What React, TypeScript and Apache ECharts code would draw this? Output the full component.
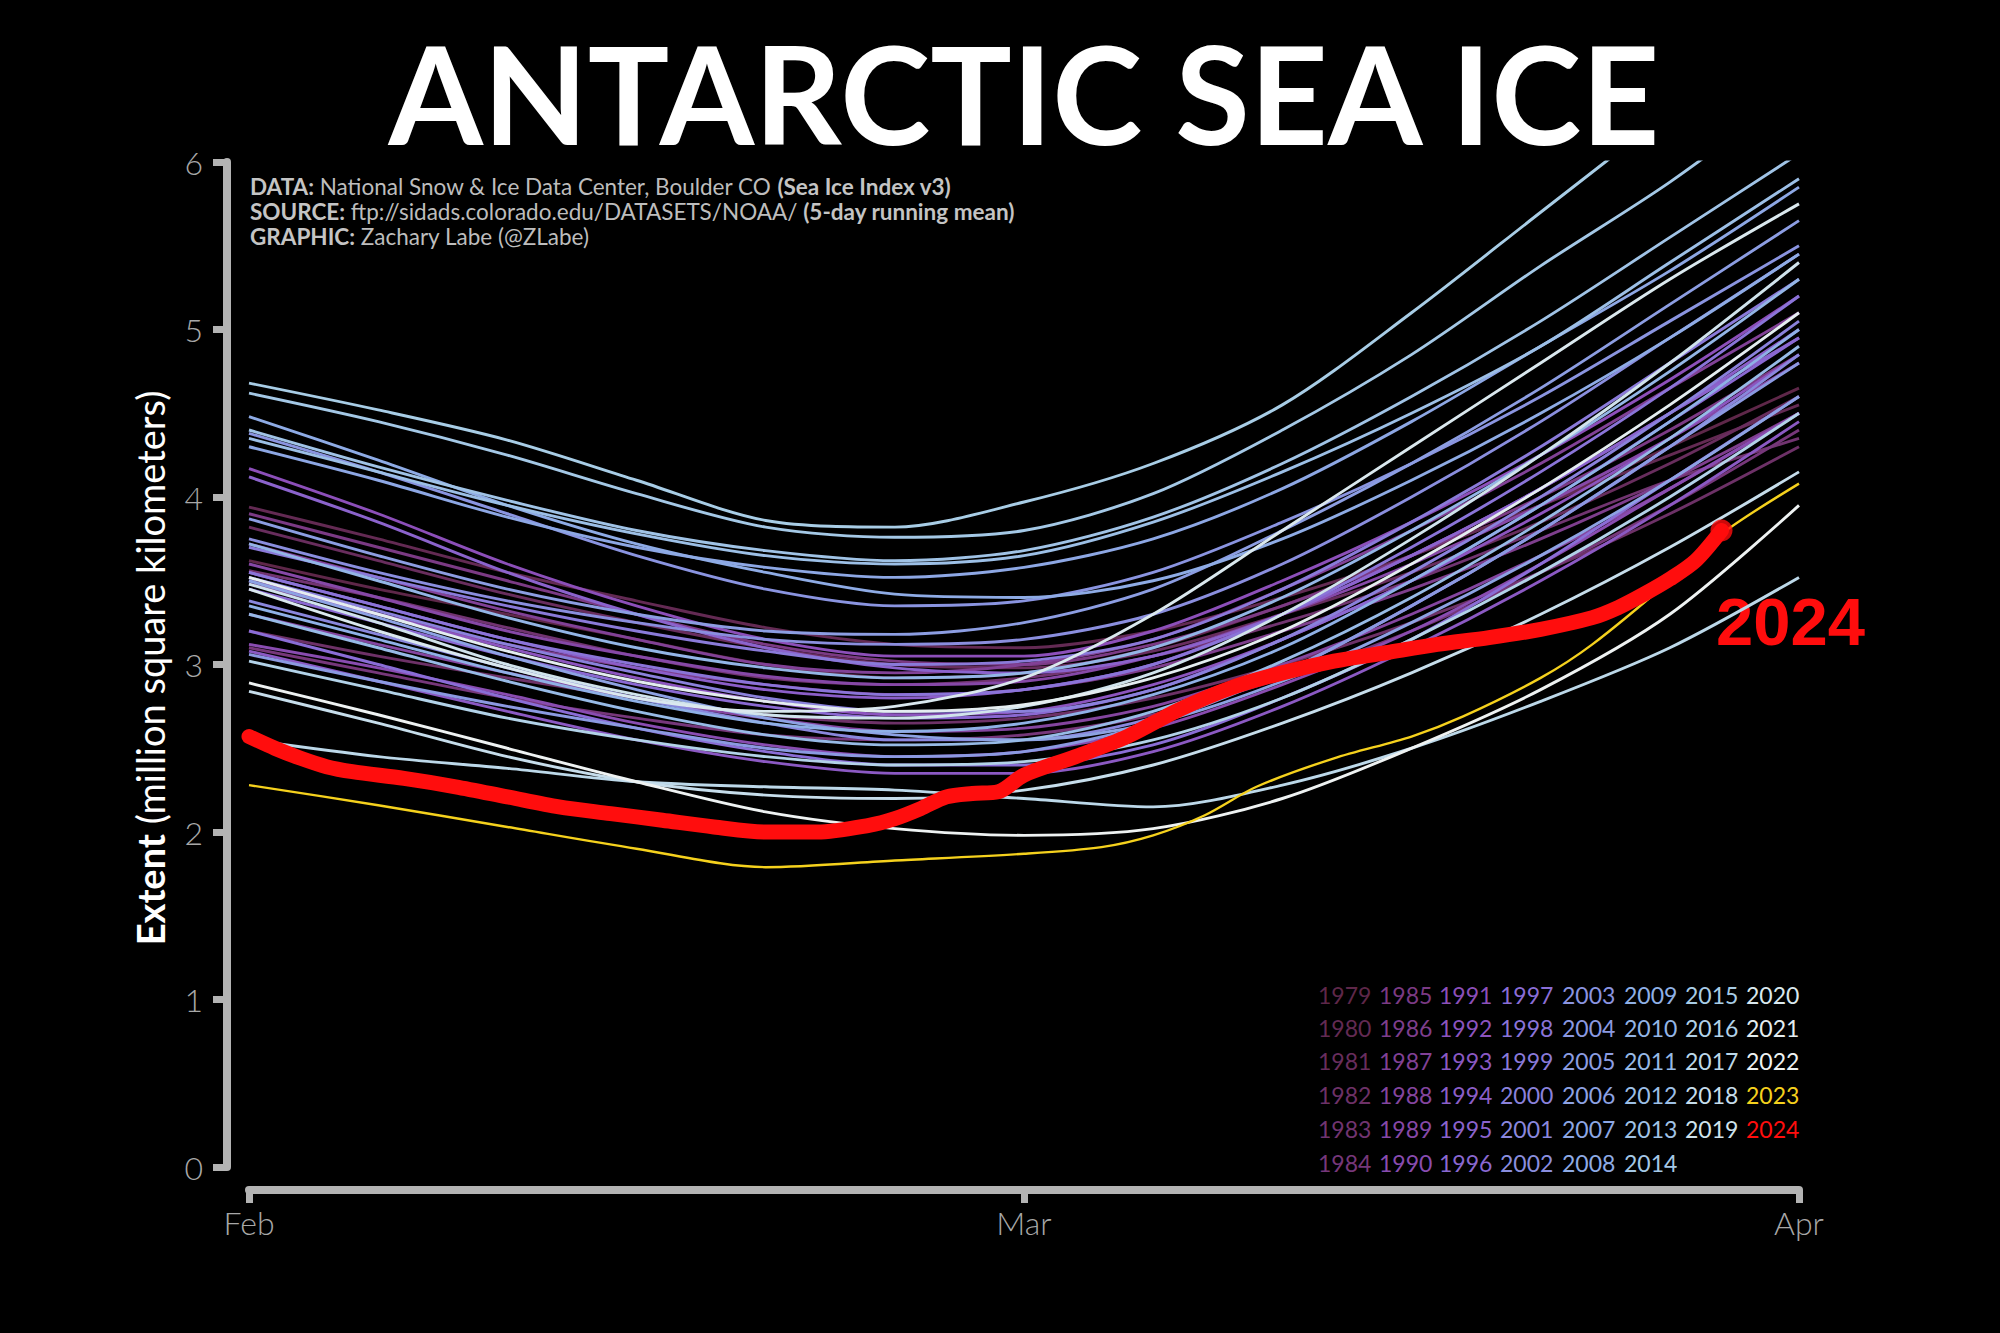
import React, { useEffect, useRef } from "react";
import * as echarts from "echarts";

// ---------- DATA ----------
const days = [0, 5, 10, 15, 20, 25, 30, 35, 40, 45, 50, 55, 60];
const monthTicks = [0, 30, 60];
const monthLabels = ["Feb", "Mar", "Apr"];

const bgYears = [
  1979, 1980, 1981, 1982, 1983, 1984, 1985, 1986, 1987, 1988, 1989, 1990,
  1991, 1992, 1993, 1994, 1995, 1996, 1997, 1998, 1999, 2000, 2001, 2002,
  2003, 2004, 2005, 2006, 2007, 2008, 2009, 2010, 2011, 2012, 2013, 2014,
  2015, 2016, 2017, 2018, 2019, 2020, 2021, 2022,
];

// million km², one row per year in bgYears, sampled at `days`
const bgExtents: number[][] = [
  [3.62, 3.45, 3.3, 3.15, 3.0, 2.92, 2.95, 3.1, 3.35, 3.65, 3.95, 4.3, 4.65], // 1979
  [3.94, 3.75, 3.55, 3.38, 3.22, 3.12, 3.1, 3.2, 3.4, 3.65, 3.95, 4.25, 4.55], // 1980
  [3.82, 3.62, 3.42, 3.25, 3.1, 3.0, 2.98, 3.08, 3.3, 3.55, 3.85, 4.2, 4.6], // 1981
  [3.2, 3.05, 2.92, 2.8, 2.7, 2.65, 2.68, 2.8, 3.0, 3.25, 3.55, 3.9, 4.3], // 1982
  [3.56, 3.4, 3.22, 3.05, 2.92, 2.88, 2.92, 3.05, 3.25, 3.5, 3.8, 4.1, 4.35], // 1983
  [3.1, 2.95, 2.8, 2.68, 2.58, 2.55, 2.58, 2.7, 2.92, 3.2, 3.55, 3.95, 4.4], // 1984
  [3.9, 3.7, 3.5, 3.3, 3.12, 3.02, 3.0, 3.12, 3.35, 3.65, 4.0, 4.4, 4.85], // 1985
  [3.48, 3.3, 3.12, 2.98, 2.88, 2.82, 2.85, 2.98, 3.2, 3.45, 3.75, 4.1, 4.5], // 1986
  [3.72, 3.52, 3.32, 3.15, 3.0, 2.95, 3.0, 3.15, 3.45, 3.8, 4.2, 4.65, 5.1], // 1987
  [3.3, 3.12, 2.95, 2.8, 2.68, 2.6, 2.62, 2.75, 3.0, 3.3, 3.65, 4.05, 4.5], // 1988
  [3.6, 3.4, 3.2, 3.05, 2.93, 2.88, 2.9, 3.05, 3.3, 3.6, 3.95, 4.35, 4.8], // 1989
  [3.12, 2.98, 2.82, 2.65, 2.52, 2.45, 2.48, 2.62, 2.88, 3.2, 3.6, 4.05, 4.5], // 1990
  [4.17, 3.9, 3.6, 3.35, 3.15, 3.05, 3.05, 3.2, 3.5, 3.85, 4.25, 4.7, 5.2], // 1991
  [3.5, 3.3, 3.1, 2.92, 2.78, 2.7, 2.72, 2.88, 3.15, 3.5, 3.9, 4.35, 4.85], // 1992
  [3.08, 2.9, 2.72, 2.55, 2.42, 2.35, 2.35, 2.48, 2.75, 3.1, 3.5, 3.95, 4.45], // 1993
  [3.55, 3.35, 3.15, 2.98, 2.85, 2.8, 2.85, 3.0, 3.3, 3.65, 4.05, 4.5, 5.0], // 1994
  [4.12, 3.85, 3.55, 3.3, 3.1, 2.98, 2.95, 3.05, 3.3, 3.65, 4.05, 4.5, 4.95], // 1995
  [3.45, 3.25, 3.05, 2.88, 2.75, 2.68, 2.7, 2.85, 3.15, 3.5, 3.95, 4.45, 4.95], // 1996
  [3.2, 3.0, 2.8, 2.62, 2.48, 2.4, 2.4, 2.52, 2.8, 3.15, 3.6, 4.1, 4.6], // 1997
  [3.55, 3.35, 3.15, 3.0, 2.88, 2.82, 2.85, 3.0, 3.3, 3.7, 4.15, 4.65, 5.2], // 1998
  [3.7, 3.52, 3.35, 3.2, 3.08, 3.0, 3.02, 3.15, 3.45, 3.85, 4.3, 4.8, 5.3], // 1999
  [3.52, 3.32, 3.12, 2.95, 2.8, 2.72, 2.72, 2.85, 3.15, 3.55, 4.0, 4.5, 5.05], // 2000
  [3.38, 3.18, 2.98, 2.8, 2.65, 2.55, 2.55, 2.68, 2.95, 3.35, 3.8, 4.3, 4.85], // 2001
  [3.75, 3.55, 3.38, 3.25, 3.15, 3.12, 3.15, 3.3, 3.6, 4.0, 4.45, 4.95, 5.45], // 2002
  [4.38, 4.15, 3.9, 3.65, 3.45, 3.35, 3.38, 3.55, 3.85, 4.2, 4.6, 5.05, 5.5], // 2003
  [3.06, 2.9, 2.75, 2.62, 2.5, 2.45, 2.48, 2.65, 2.95, 3.35, 3.8, 4.3, 4.8], // 2004
  [3.87, 3.65, 3.45, 3.3, 3.2, 3.18, 3.25, 3.45, 3.8, 4.2, 4.65, 5.15, 5.65], // 2005
  [3.5, 3.28, 3.05, 2.85, 2.68, 2.58, 2.55, 2.65, 2.9, 3.25, 3.65, 4.1, 4.6], // 2006
  [4.3, 4.1, 3.88, 3.7, 3.58, 3.52, 3.58, 3.75, 4.05, 4.45, 4.9, 5.35, 5.85], // 2007
  [4.48, 4.22, 3.95, 3.72, 3.55, 3.42, 3.4, 3.5, 3.75, 4.1, 4.5, 4.95, 5.45], // 2008
  [3.35, 3.15, 2.95, 2.78, 2.65, 2.6, 2.65, 2.82, 3.1, 3.5, 3.95, 4.45, 5.0], // 2009
  [3.72, 3.5, 3.28, 3.1, 2.98, 2.92, 2.95, 3.1, 3.4, 3.8, 4.25, 4.75, 5.3], // 2010
  [3.3, 3.1, 2.9, 2.72, 2.58, 2.52, 2.55, 2.72, 3.02, 3.4, 3.85, 4.35, 4.9], // 2011
  [4.35, 4.15, 3.95, 3.78, 3.65, 3.6, 3.65, 3.85, 4.15, 4.5, 4.9, 5.4, 5.9], // 2012
  [4.4, 4.18, 3.98, 3.8, 3.68, 3.62, 3.68, 3.88, 4.2, 4.6, 5.05, 5.55, 6.05], // 2013
  [4.62, 4.45, 4.25, 4.02, 3.82, 3.76, 3.8, 4.02, 4.4, 4.85, 5.38, 5.88, 6.45], // 2014
  [4.68, 4.52, 4.34, 4.1, 3.86, 3.82, 3.97, 4.2, 4.55, 5.1, 5.7, 6.3, 6.9], // 2015
  [3.02, 2.85, 2.68, 2.55, 2.45, 2.4, 2.42, 2.55, 2.8, 3.15, 3.55, 4.0, 4.5], // 2016
  [2.55, 2.45, 2.38, 2.3, 2.27, 2.25, 2.2, 2.15, 2.28, 2.5, 2.78, 3.1, 3.52], // 2017
  [2.84, 2.65, 2.45, 2.3, 2.22, 2.2, 2.25, 2.4, 2.65, 2.95, 3.3, 3.7, 4.15], // 2018
  [3.48, 3.25, 3.0, 2.82, 2.7, 2.68, 2.75, 2.95, 3.3, 3.75, 4.25, 4.8, 5.4], // 2019
  [3.45, 3.2, 2.98, 2.8, 2.72, 2.75, 2.92, 3.3, 3.8, 4.3, 4.8, 5.3, 5.75], // 2020
  [3.52, 3.3, 3.08, 2.9, 2.78, 2.72, 2.76, 2.92, 3.2, 3.6, 4.05, 4.55, 5.1], // 2021
  [2.89, 2.7, 2.5, 2.3, 2.12, 2.02, 1.98, 2.02, 2.2, 2.5, 2.85, 3.3, 3.95], // 2022
];

const days2023 = [0, 5, 10, 15, 20, 25, 30, 33, 35, 37, 39, 42, 45, 47, 50, 52, 55, 57, 60];
const ext2023 = [2.28, 2.16, 2.03, 1.9, 1.79, 1.83, 1.87, 1.91, 1.98, 2.1, 2.27, 2.44, 2.57, 2.69, 2.92, 3.12, 3.5, 3.78, 4.08];

const days2024 = [0, 1, 2, 3, 4, 6, 8, 10, 12, 14, 16, 18, 20, 22, 24, 25, 26, 27, 28, 29, 30, 32, 34, 36, 38, 40, 42, 44, 46, 48, 50, 52, 53, 54, 55, 56, 57];
const ext2024 = [2.57, 2.5, 2.44, 2.39, 2.36, 2.32, 2.27, 2.21, 2.15, 2.11, 2.07, 2.03, 2.0, 2.0, 2.04, 2.08, 2.14, 2.21, 2.23, 2.24, 2.34, 2.45, 2.57, 2.73, 2.86, 2.95, 3.02, 3.07, 3.12, 3.16, 3.21, 3.28, 3.34, 3.42, 3.51, 3.62, 3.8];

// ---------- STYLE HELPERS ----------
const colorStops: [number, string][] = [
  [1979, "#5e2749"],
  [1985, "#7b3a84"],
  [1991, "#8c4fb9"],
  [1997, "#8a6dd6"],
  [2003, "#8a94e0"],
  [2009, "#8fb0e6"],
  [2015, "#a8cde6"],
  [2020, "#dae8ee"],
  [2022, "#eef2f2"],
];
const COLOR_2023 = "#f5d11d";
const COLOR_2024 = "#ff0d0d";

function hexToRgb(h: string) {
  const n = parseInt(h.slice(1), 16);
  return [(n >> 16) & 255, (n >> 8) & 255, n & 255];
}
function yearColor(y: number): string {
  if (y === 2023) return COLOR_2023;
  if (y === 2024) return COLOR_2024;
  for (let i = 0; i < colorStops.length - 1; i++) {
    const [y0, c0] = colorStops[i];
    const [y1, c1] = colorStops[i + 1];
    if (y >= y0 && y <= y1) {
      const t = (y - y0) / (y1 - y0);
      const a = hexToRgb(c0);
      const b = hexToRgb(c1);
      const r = a.map((v, k) => Math.round(v + (b[k] - v) * t));
      return `rgb(${r[0]},${r[1]},${r[2]})`;
    }
  }
  return colorStops[colorStops.length - 1][1];
}

const legendYears = [...bgYears, 2023, 2024];

export default function App() {
  const ref = useRef<HTMLDivElement>(null);

  useEffect(() => {
    document.body.style.margin = "0";
    document.body.style.background = "#000";
    if (!ref.current) return;
    const chart = echarts.init(ref.current, undefined, { renderer: "svg" });

    const series: any[] = bgYears.map((yr, i) => ({
      type: "line",
      name: String(yr),
      data: days.map((d, k) => [d, bgExtents[i][k]]),
      symbol: "none",
      smooth: 0.3,
      silent: true,
      clip: true,
      lineStyle: { width: 2.9, color: yearColor(yr) },
      z: 2,
    }));
    series.push({
      type: "line",
      name: "2023",
      data: days2023.map((d, k) => [d, ext2023[k]]),
      symbol: "none",
      smooth: 0.3,
      silent: true,
      lineStyle: { width: 2.4, color: COLOR_2023 },
      z: 3,
    });
    series.push({
      type: "line",
      name: "2024",
      data: days2024.map((d, k) => [d, ext2024[k]]),
      symbol: "none",
      smooth: 0.3,
      silent: true,
      lineStyle: { width: 15, color: COLOR_2024, cap: "round", join: "round" },
      z: 4,
    });
    const last = days2024.length - 1;
    series.push({
      type: "scatter",
      data: [[days2024[last], ext2024[last]]],
      symbolSize: 22,
      itemStyle: { color: COLOR_2024 },
      silent: true,
      z: 5,
    });

    const font = "Lato, 'Open Sans', sans-serif";
    const graphic: any[] = [
      {
        type: "text",
        x: 1024,
        y: 92,
        style: {
          text: "ANTARCTIC SEA ICE",
          fill: "#ffffff",
          fontSize: 136,
          lineHeight: 100,
          fontFamily: font,
          fontWeight: "bold",
          align: "center",
          verticalAlign: "middle",
        },
      },
      ...[
        "{b|DATA:} National Snow & Ice Data Center, Boulder CO {b|(Sea Ice Index v3)}",
        "{b|SOURCE:} ftp://sidads.colorado.edu/DATASETS/NOAA/ {b|(5-day running mean)}",
        "{b|GRAPHIC:} Zachary Labe (@ZLabe)",
      ].map((t, i) => ({
        type: "text",
        x: 250,
        y: 186 + i * 25,
        style: {
          text: t,
          fill: "#bdbdbd",
          fontSize: 22.5,
          lineHeight: 24,
          fontFamily: font,
          align: "left",
          verticalAlign: "middle",
          rich: {
            b: { fontWeight: "bold", fill: "#c4c4c4", fontSize: 22.5, lineHeight: 24, fontFamily: font },
          },
        },
      })),
      {
        type: "text",
        x: 150,
        y: 668,
        rotation: Math.PI / 2,
        style: {
          text: "{b|Extent} (million square kilometers)",
          fill: "#ffffff",
          fontSize: 38,
          fontFamily: font,
          align: "center",
          verticalAlign: "middle",
          rich: {
            b: { fontWeight: "bold", fill: "#ffffff", fontSize: 38, fontFamily: font },
          },
        },
      },
      {
        type: "text",
        x: 1716,
        y: 621,
        style: {
          text: "2024",
          fill: COLOR_2024,
          fontSize: 67,
          fontFamily: "'Liberation Sans', Arial, sans-serif",
          fontWeight: "bold",
          align: "left",
          verticalAlign: "middle",
        },
      },
    ];

    const colX = [1318, 1379, 1439, 1500, 1562, 1624, 1685, 1746];
    const rowY = [995, 1028, 1061, 1095, 1129, 1163];
    legendYears.forEach((yr, i) => {
      let col: number, row: number;
      if (i < 36) {
        col = Math.floor(i / 6);
        row = i % 6;
      } else {
        const j = i - 36;
        col = 6 + Math.floor(j / 5);
        row = j % 5;
      }
      graphic.push({
        type: "text",
        x: colX[col],
        y: rowY[row],
        style: {
          text: String(yr),
          fill: yearColor(yr),
          fontSize: 23,
          fontFamily: font,
          align: "left",
          verticalAlign: "middle",
        },
      });
    });

    const axisColor = "#b3b3b3";
    const option: any = {
      animation: false,
      backgroundColor: "#000000",
      grid: { left: 249, right: 201, top: 162, bottom: 166 },
      xAxis: {
        type: "value",
        min: 0,
        max: 60,
        interval: 30,
        offset: 23,
        axisLine: { show: true, onZero: false, lineStyle: { color: axisColor, width: 8 } },
        axisTick: { show: true, length: 13, lineStyle: { color: axisColor, width: 7 } },
        axisLabel: {
          color: "#a8a8a8",
          fontSize: 32,
          fontFamily: font,
          fontWeight: 300,
          margin: 16,
          formatter: (v: number) => {
            const idx = monthTicks.indexOf(v);
            return idx >= 0 ? monthLabels[idx] : "";
          },
        },
        splitLine: { show: false },
      },
      yAxis: {
        type: "value",
        min: 0,
        max: 6,
        interval: 1,
        offset: 22,
        axisLine: { show: true, onZero: false, lineStyle: { color: axisColor, width: 8 } },
        axisTick: { show: true, length: 14, lineStyle: { color: axisColor, width: 7 } },
        axisLabel: {
          color: "#a8a8a8",
          fontSize: 32,
          fontFamily: font,
          fontWeight: 300,
          margin: 24,
        },
        splitLine: { show: false },
      },
      series,
      graphic,
    };

    chart.setOption(option);
    return () => chart.dispose();
  }, []);

  return (
    <div
      ref={ref}
      style={{ position: "absolute", left: 0, top: 0, width: 2000, height: 1333, background: "#000" }}
    />
  );
}
